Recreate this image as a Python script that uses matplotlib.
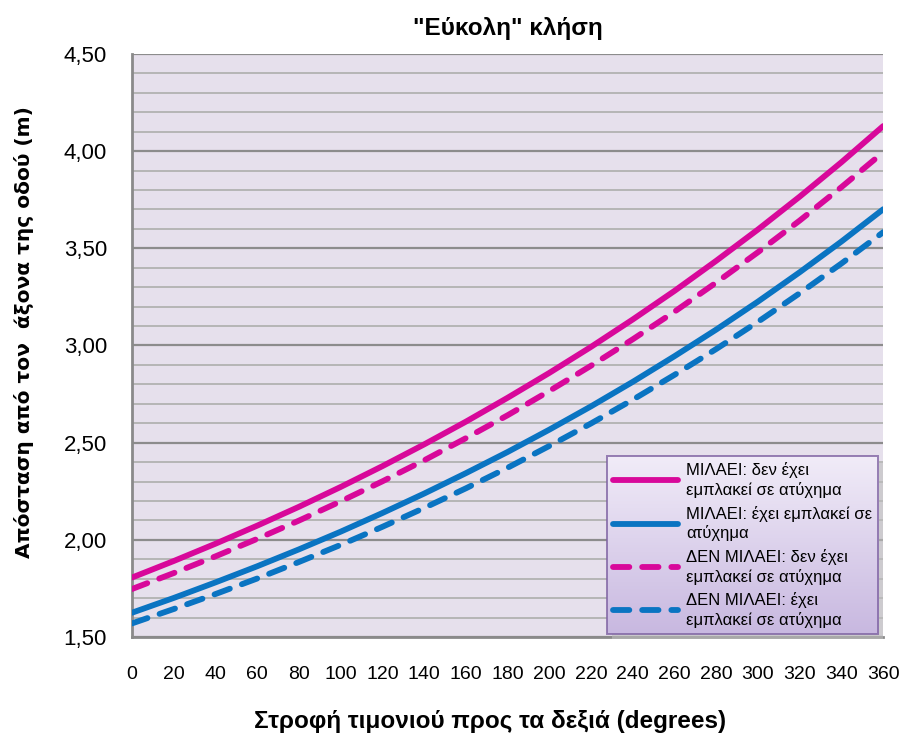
import numpy as np
import matplotlib.pyplot as plt
from matplotlib.patches import Rectangle
from matplotlib.ticker import MultipleLocator, FuncFormatter

plt.rcParams['font.family'] = ['Liberation Sans', 'DejaVu Sans']

# steering wheel angle (degrees)
angles = [0, 20, 40, 60, 80, 100, 120, 140, 160, 180, 200, 220, 240, 260, 280, 300, 320, 340, 360]

# distance from road axis (m)
talk_no_acc = [1.806, 1.891, 1.980, 2.073, 2.170, 2.272, 2.379, 2.491, 2.608, 2.731,
               2.859, 2.993, 3.134, 3.281, 3.436, 3.597, 3.766, 3.943, 4.129]
talk_acc = [1.625, 1.701, 1.781, 1.864, 1.951, 2.042, 2.138, 2.238, 2.343, 2.452,
            2.567, 2.687, 2.813, 2.945, 3.082, 3.226, 3.377, 3.535, 3.701]
notalk_no_acc = [1.747, 1.829, 1.915, 2.005, 2.099, 2.198, 2.301, 2.409, 2.523, 2.641,
                 2.766, 2.896, 3.032, 3.174, 3.324, 3.480, 3.643, 3.815, 3.994]
notalk_acc = [1.570, 1.644, 1.721, 1.801, 1.886, 1.974, 2.067, 2.164, 2.265, 2.371,
              2.483, 2.599, 2.721, 2.849, 2.982, 3.122, 3.269, 3.422, 3.583]

labels = ['ΜΙΛΑΕΙ: δεν έχει\nεμπλακεί σε ατύχημα',
          'ΜΙΛΑΕΙ: έχει εμπλακεί σε\nατύχημα',
          'ΔΕΝ ΜΙΛΑΕΙ: δεν έχει\nεμπλακεί σε ατύχημα',
          'ΔΕΝ ΜΙΛΑΕΙ: έχει\nεμπλακεί σε ατύχημα']

pink = '#D8089A'
blue = '#0A74C2'

fig = plt.figure(figsize=(9.04, 7.39), dpi=100)
ax = fig.add_axes([0.146, 0.138, 0.831, 0.789])
ax.set_facecolor('#E6E0EC')

lw = 4.2
dash = (0, (2.8, 2.2))
ax.plot(angles, talk_no_acc, color=pink, lw=lw, solid_capstyle='round', label=labels[0], zorder=3)
ax.plot(angles, talk_acc, color=blue, lw=lw, solid_capstyle='round', label=labels[1], zorder=3)
ax.plot(angles, notalk_no_acc, color=pink, lw=lw, ls=dash, dash_capstyle='round', label=labels[2], zorder=3)
ax.plot(angles, notalk_acc, color=blue, lw=lw, ls=dash, dash_capstyle='round', label=labels[3], zorder=3)

ax.set_xlim(0, 360)
ax.set_ylim(1.5, 4.5)
ax.xaxis.set_major_locator(MultipleLocator(20))
ax.yaxis.set_major_locator(MultipleLocator(0.5))
ax.yaxis.set_minor_locator(MultipleLocator(0.1))
ax.yaxis.set_major_formatter(FuncFormatter(lambda v, p: f'{v:.2f}'.replace('.', ',')))
ax.grid(axis='y', which='major', color='#8C8C8C', lw=1.6, zorder=1)
ax.grid(axis='y', which='minor', color='#B5B5B5', lw=1.4, zorder=1)
ax.set_axisbelow(True)
ax.tick_params(axis='both', which='both', length=0)
ax.tick_params(axis='x', pad=21, labelsize=14)
ax.tick_params(axis='y', pad=18, labelsize=16)
for s in ['top', 'right']:
    ax.spines[s].set_visible(False)
for s in ['left', 'bottom']:
    ax.spines[s].set_color('#8A8A8A')
    ax.spines[s].set_linewidth(2)

ax.set_title('"Εύκολη" κλήση', fontsize=17.5, fontweight='bold', pad=14)
ax.set_xlabel('Στροφή τιμονιού προς τα δεξιά (degrees)', fontsize=17.5, fontweight='bold')
ax.xaxis.set_label_coords(0.477, -0.125)
ax.set_ylabel('Απόσταση από τον  άξονα της οδού (m)', fontsize=14.5, fontweight='bold',
              family='DejaVu Sans')
ax.yaxis.set_label_coords(-0.131, 0.523)

leg = ax.legend(loc='lower right', bbox_to_anchor=(0.993, 0.005), fontsize=12,
                handlelength=3.9, handletextpad=0.5, labelspacing=0.45,
                borderpad=0.35, borderaxespad=0, fancybox=False, frameon=True)
for t in leg.get_texts():
    t.set_linespacing(1.3)
leg.set_zorder(6)
frame = leg.get_frame()
frame.set_facecolor('none')
frame.set_edgecolor('#7E62A2')
frame.set_linewidth(1.4)

# gradient fill behind the legend
fig.canvas.draw()
bb = leg.get_window_extent().transformed(ax.transAxes.inverted())
grad = np.linspace(0, 1, 256).reshape(-1, 1)
top_c = np.array([241, 236, 248]) / 255
bot_c = np.array([200, 184, 224]) / 255
img = top_c + (bot_c - top_c) * grad[:, :, None]
ax.imshow(img, extent=[bb.x0, bb.x1, bb.y0, bb.y1], transform=ax.transAxes,
          aspect='auto', zorder=5, origin='upper')
dx = 5 / (ax.bbox.width)
dy = 5 / (ax.bbox.height)
ax.add_patch(Rectangle((bb.x0 + dx, bb.y0 - dy), bb.width, bb.height, transform=ax.transAxes,
                       facecolor='#BDBDBD', edgecolor='none', alpha=0.6, zorder=4.5, clip_on=False))
ax.set_xlim(0, 360)
ax.set_ylim(1.5, 4.5)

fig.savefig('out.png', dpi=100)
